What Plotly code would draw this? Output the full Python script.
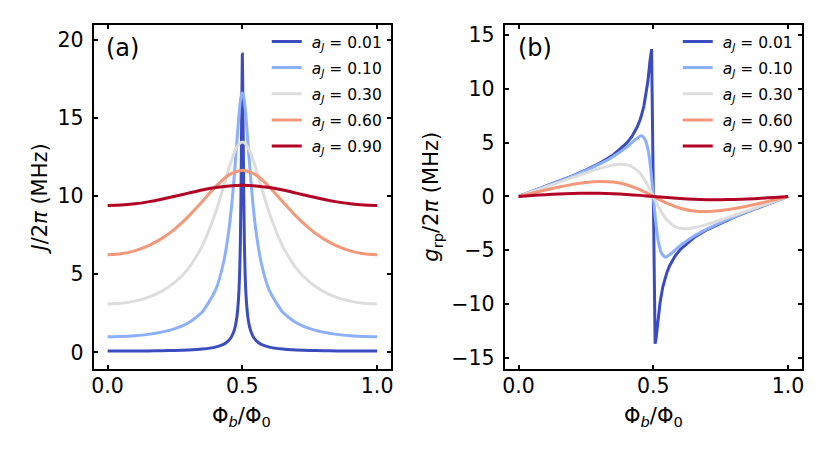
import plotly.graph_objects as go

# ---------------- data ----------------
labels = ["0.01", "0.10", "0.30", "0.60", "0.90"]
colors = ["#3b4cc0", "#8db0fe", "#dddddd", "#f4987a", "#b40426"]

# Panel (a): J/2pi (MHz)
jx_001 = [0, 0.05, 0.1, 0.15, 0.2, 0.25, 0.3, 0.35, 0.4, 0.43, 0.44, 0.45, 0.46, 0.47, 0.475, 0.48, 0.485, 0.4875, 0.49, 0.4925, 0.495, 0.4975,
          0.5, 0.5025, 0.505, 0.5075, 0.51, 0.5125, 0.515, 0.52, 0.525, 0.53, 0.54, 0.55, 0.56, 0.57, 0.6, 0.65, 0.7, 0.75, 0.8, 0.85, 0.9, 0.95, 1.0]
jy_001 = [0.08, 0.081, 0.085, 0.092, 0.104, 0.122, 0.153, 0.209, 0.335, 0.512, 0.616, 0.767, 1.005, 1.42, 1.77, 2.30, 3.24, 4.0, 5.14, 7.0, 10.3, 15.0,
          19.1, 15.0, 10.3, 7.0, 5.14, 4.0, 3.24, 2.30, 1.77, 1.42, 1.005, 0.767, 0.616, 0.512, 0.335, 0.209, 0.153, 0.122, 0.104, 0.092, 0.085, 0.081, 0.08]

jx_010 = [0, 0.05, 0.1, 0.15, 0.2, 0.25, 0.3, 0.35, 0.4, 0.43, 0.45, 0.46, 0.47, 0.48, 0.485, 0.49, 0.495,
          0.5, 0.505, 0.51, 0.515, 0.52, 0.53, 0.54, 0.55, 0.57, 0.6, 0.65, 0.7, 0.75, 0.8, 0.85, 0.9, 0.95, 1.0]
jy_010 = [1.0, 1.015, 1.062, 1.149, 1.291, 1.517, 1.890, 2.561, 3.965, 5.734, 7.834, 9.367, 11.31, 13.58, 14.70, 15.68, 16.35,
          16.6, 16.35, 15.68, 14.70, 13.58, 11.31, 9.367, 7.834, 5.734, 3.965, 2.561, 1.890, 1.517, 1.291, 1.149, 1.062, 1.015, 1.0]

jx_030 = [0, 0.05, 0.1, 0.15, 0.2, 0.25, 0.3, 0.35, 0.4, 0.43, 0.45, 0.46, 0.47, 0.48, 0.49,
          0.5, 0.51, 0.52, 0.53, 0.54, 0.55, 0.57, 0.6, 0.65, 0.7, 0.75, 0.8, 0.85, 0.9, 0.95, 1.0]
jy_030 = [3.10, 3.143, 3.277, 3.519, 3.902, 4.489, 5.376, 6.766, 8.917, 10.60, 11.77, 12.31, 12.78, 13.14, 13.38,
          13.47, 13.38, 13.14, 12.78, 12.31, 11.77, 10.60, 8.917, 6.766, 5.376, 4.489, 3.902, 3.519, 3.277, 3.143, 3.10]

jx_060 = [0, 0.05, 0.1, 0.15, 0.2, 0.25, 0.3, 0.35, 0.4, 0.45, 0.5, 0.55, 0.6, 0.65, 0.7, 0.75, 0.8, 0.85, 0.9, 0.95, 1.0]
jy_060 = [6.25, 6.311, 6.495, 6.813, 7.279, 7.908, 8.703, 9.635, 10.59, 11.36, 11.66,
          11.36, 10.59, 9.635, 8.703, 7.908, 7.279, 6.813, 6.495, 6.311, 6.25]

jx_090 = [0, 0.05, 0.1, 0.15, 0.2, 0.25, 0.3, 0.35, 0.4, 0.45, 0.5, 0.55, 0.6, 0.65, 0.7, 0.75, 0.8, 0.85, 0.9, 0.95, 1.0]
jy_090 = [9.40, 9.427, 9.505, 9.632, 9.797, 9.990, 10.19, 10.39, 10.55, 10.65, 10.69,
          10.65, 10.55, 10.39, 10.19, 9.990, 9.797, 9.632, 9.505, 9.427, 9.40]

# Panel (b): g_rp/2pi (MHz)
gx_001 = [0, 0.05, 0.1, 0.15, 0.2, 0.25, 0.3, 0.35, 0.4, 0.42, 0.44, 0.45, 0.455, 0.465, 0.475, 0.48, 0.4875, 0.49, 0.4935,
          0.5, 0.5065, 0.51, 0.5125, 0.52, 0.525, 0.535, 0.545, 0.55, 0.56, 0.58, 0.6, 0.65, 0.7, 0.75, 0.8, 0.85, 0.9, 0.95, 1.0]
gy_001 = [0, 0.464, 0.934, 1.415, 1.920, 2.463, 3.080, 3.838, 4.93, 5.565, 6.458, 7.08, 7.451, 8.424, 9.86, 10.75, 12.6, 13.2, 13.7,
          0, -13.7, -13.2, -12.6, -10.75, -9.86, -8.424, -7.451, -7.08, -6.458, -5.565, -4.93, -3.838, -3.080, -2.463, -1.920, -1.415, -0.934, -0.464, 0]

gx_010 = [0, 0.05, 0.1, 0.15, 0.2, 0.25, 0.3, 0.35, 0.4, 0.42, 0.43, 0.44, 0.45, 0.455, 0.46, 0.47, 0.48, 0.485, 0.49, 0.495,
          0.5, 0.505, 0.51, 0.515, 0.52, 0.53, 0.54, 0.545, 0.55, 0.56, 0.57, 0.58, 0.6, 0.65, 0.7, 0.75, 0.8, 0.85, 0.9, 0.95, 1.0]
gy_010 = [0, 0.46, 0.924, 1.399, 1.893, 2.421, 3.007, 3.696, 4.563, 5.0, 5.22, 5.42, 5.60, 5.65, 5.58, 5.25, 4.38, 3.62, 2.61, 1.37,
          0, -1.37, -2.61, -3.62, -4.38, -5.25, -5.58, -5.65, -5.60, -5.42, -5.22, -5.0, -4.563, -3.696, -3.007, -2.421, -1.893, -1.399, -0.924, -0.46, 0]

gx_030 = [0, 0.05, 0.1, 0.15, 0.2, 0.25, 0.3, 0.35, 0.38, 0.4, 0.42, 0.45, 0.47, 0.48, 0.49,
          0.5, 0.51, 0.52, 0.53, 0.55, 0.58, 0.6, 0.62, 0.65, 0.7, 0.75, 0.8, 0.85, 0.9, 0.95, 1.0]
gy_030 = [0, 0.439, 0.878, 1.317, 1.755, 2.188, 2.594, 2.915, 2.997, 2.957, 2.789, 2.177, 1.459, 1.010, 0.517,
          0, -0.517, -1.010, -1.459, -2.177, -2.789, -2.957, -2.997, -2.915, -2.594, -2.188, -1.755, -1.317, -0.878, -0.439, 0]

gx_060 = [0, 0.05, 0.1, 0.15, 0.2, 0.25, 0.3, 0.35, 0.4, 0.45, 0.5, 0.55, 0.6, 0.65, 0.7, 0.75, 0.8, 0.85, 0.9, 0.95, 1.0]
gy_060 = [0, 0.307, 0.605, 0.882, 1.123, 1.306, 1.395, 1.343, 1.094, 0.626, 0,
          -0.626, -1.094, -1.343, -1.395, -1.306, -1.123, -0.882, -0.605, -0.307, 0]

gx_090 = [0, 0.05, 0.1, 0.15, 0.2, 0.25, 0.3, 0.35, 0.4, 0.45, 0.5, 0.55, 0.6, 0.65, 0.7, 0.75, 0.8, 0.85, 0.9, 0.95, 1.0]
gy_090 = [0, 0.0869, 0.167, 0.2335, 0.2803, 0.3017, 0.294, 0.2559, 0.1894, 0.1008, 0,
          -0.1008, -0.1894, -0.2559, -0.294, -0.3017, -0.2803, -0.2335, -0.167, -0.0869, 0]

x_ticks = [0.0, 0.5, 1.0]
j_ticks = [0, 5, 10, 15, 20]
g_ticks = [-15, -10, -5, 0, 5, 10, 15]

# ---------------- figure ----------------
# the page body has an 8 px margin, so the figure is 8 px smaller on each
# axis and all pixel positions below are window pixels shifted by 8
OFF = 8
W, H = 830 - OFF, 453 - OFF
FONT = "DejaVu Sans"


def px_x(p):
    return (p - OFF) / W


def px_y(p):
    return 1 - (p - OFF) / H


fig = go.Figure()

j_series = [(jx_001, jy_001), (jx_010, jy_010), (jx_030, jy_030), (jx_060, jy_060), (jx_090, jy_090)]
g_series = [(gx_001, gy_001), (gx_010, gy_010), (gx_030, gy_030), (gx_060, gy_060), (gx_090, gy_090)]
j_shape = ["spline", "spline", "spline", "spline", "spline"]
j_smooth = [0.4, 0.6, 0.6, 0.6, 0.6]
g_shape = ["linear", "spline", "spline", "spline", "spline"]
LW = 3

for i, (xs, ys) in enumerate(j_series):
    fig.add_trace(go.Scatter(
        x=xs, y=ys, mode="lines", xaxis="x", yaxis="y",
        line=dict(color=colors[i], width=LW, shape=j_shape[i], smoothing=j_smooth[i]),
        name="\u00a0<i>a</i><sub><i>J</i></sub> = " + labels[i],
        legend="legend", legendgroup="a" + str(i),
    ))
for i, (xs, ys) in enumerate(g_series):
    fig.add_trace(go.Scatter(
        x=xs, y=ys, mode="lines", xaxis="x2", yaxis="y2",
        line=dict(color=colors[i], width=LW, shape=g_shape[i], smoothing=0.6),
        name="\u00a0<i>a</i><sub><i>J</i></sub> = " + labels[i],
        legend="legend2", legendgroup="b" + str(i),
    ))

axis_common = dict(
    showline=True, linecolor="black", linewidth=2, mirror="ticks",
    ticks="inside", ticklen=4, tickwidth=1.8, tickcolor="black",
    showgrid=False, zeroline=False,
    tickfont=dict(family=FONT, size=20.5, color="black"),
)

y0, y1 = px_y(369), px_y(23)
legend_common = dict(
    bgcolor="rgba(0,0,0,0)", borderwidth=0,
    font=dict(family=FONT, size=15.5, color="black"),
    tracegroupgap=3, itemwidth=30, xanchor="left", yanchor="top",
)

fig.update_layout(
    width=W, height=H,
    margin=dict(l=0, r=0, t=0, b=0),
    paper_bgcolor="white", plot_bgcolor="white",
    xaxis=dict(domain=[px_x(92), px_x(391)], range=[-0.052, 1.052], anchor="y",
               tickvals=x_ticks, tickformat=".1f", ticklabelstandoff=-2, **axis_common),
    yaxis=dict(domain=[y0, y1], range=[-1.04, 20.96], anchor="x",
               tickvals=j_ticks, ticklabelstandoff=4, **axis_common),
    xaxis2=dict(domain=[px_x(505), px_x(804)], range=[-0.052, 1.052], anchor="y2",
                tickvals=x_ticks, tickformat=".1f", ticklabelstandoff=-2, **axis_common),
    yaxis2=dict(domain=[y0, y1], range=[-16.0, 15.95], anchor="x2",
                tickvals=g_ticks, ticklabelstandoff=4, **axis_common),
    legend=dict(x=px_x(266), y=px_y(23), **legend_common),
    legend2=dict(x=px_x(679), y=px_y(23), **legend_common),
    showlegend=True,
)

ann_font = dict(family=FONT, size=21, color="black")
fig.add_annotation(text="(a)", x=px_x(102), y=px_y(46), xref="paper", yref="paper",
                   xanchor="left", yanchor="middle", showarrow=False,
                   font=dict(family=FONT, size=24, color="black"))
fig.add_annotation(text="(b)", x=px_x(516), y=px_y(46), xref="paper", yref="paper",
                   xanchor="left", yanchor="middle", showarrow=False,
                   font=dict(family=FONT, size=24, color="black"))
fig.add_annotation(text="Φ<sub><i>b</i></sub>/Φ<sub>0</sub>", x=px_x(241), y=px_y(418),
                   xref="paper", yref="paper", xanchor="center", yanchor="middle",
                   showarrow=False, font=ann_font)
fig.add_annotation(text="Φ<sub><i>b</i></sub>/Φ<sub>0</sub>", x=px_x(655), y=px_y(418),
                   xref="paper", yref="paper", xanchor="center", yanchor="middle",
                   showarrow=False, font=ann_font)
fig.add_annotation(text="<i>J</i>/2<i>π</i> (MHz)", x=px_x(38), y=px_y(198),
                   xref="paper", yref="paper", xanchor="center", yanchor="middle",
                   textangle=-90, showarrow=False, font=ann_font)
fig.add_annotation(text="<i>g</i><sub>rp</sub>/2<i>π</i> (MHz)", x=px_x(432), y=px_y(196),
                   xref="paper", yref="paper", xanchor="center", yanchor="middle",
                   textangle=-90, showarrow=False, font=ann_font)

fig.write_html("out.html")
